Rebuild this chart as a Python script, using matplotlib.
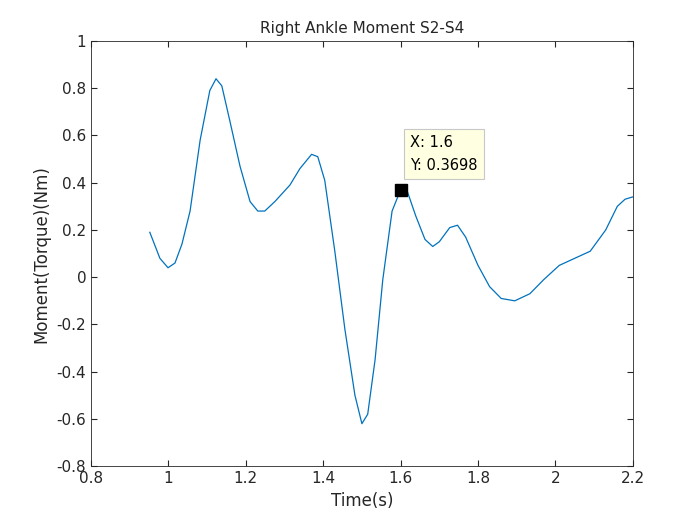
import matplotlib.pyplot as plt
import numpy as np

t = [0.952, 0.978, 0.999, 1.017, 1.035, 1.056, 1.082, 1.107, 1.123, 1.138, 1.159, 1.185,
     1.211, 1.231, 1.249, 1.275, 1.314, 1.34, 1.37, 1.386, 1.404, 1.43, 1.456, 1.482,
     1.5, 1.515, 1.534, 1.554, 1.578, 1.6, 1.618, 1.639, 1.663, 1.683, 1.7, 1.727,
     1.747, 1.768, 1.8, 1.83, 1.86, 1.895, 1.934, 1.97, 2.01, 2.05, 2.09, 2.13, 2.16,
     2.18, 2.2]
moment = [0.19, 0.08, 0.04, 0.06, 0.14, 0.28, 0.58, 0.79, 0.84, 0.81, 0.66, 0.47,
          0.32, 0.28, 0.28, 0.32, 0.39, 0.46, 0.52, 0.51, 0.41, 0.11, -0.22, -0.50,
          -0.62, -0.58, -0.35, -0.01, 0.28, 0.3698, 0.36, 0.26, 0.16, 0.13, 0.15, 0.21,
          0.22, 0.17, 0.05, -0.04, -0.09, -0.10, -0.07, -0.01, 0.05, 0.08, 0.11, 0.2, 0.3,
          0.33, 0.34]
tip_x, tip_y = 1.6, 0.3698

fig = plt.figure(figsize=(7, 5.25), dpi=100)
ax = fig.add_axes([0.13, 0.112, 0.774, 0.81])
ax.plot(t, moment, color='#0072BD', lw=0.9)
ax.plot(tip_x, tip_y, 's', color='black', ms=8)
ax.annotate('X: 1.6\nY: 0.3698', (tip_x, tip_y), xytext=(7, 14), textcoords='offset points',
            fontsize=10.5, linespacing=1.7,
            bbox=dict(boxstyle='square,pad=0.4', fc='#FFFFE1', ec='#C8C8C8', lw=0.8))
ax.set_xlim(0.8, 2.2)
ax.set_ylim(-0.8, 1)
ax.set_xticks(np.arange(0.8, 2.21, 0.2))
ax.set_xticklabels(['0.8', '1', '1.2', '1.4', '1.6', '1.8', '2', '2.2'])
ax.set_yticks(np.arange(-0.8, 1.01, 0.2))
ax.set_yticklabels(['-0.8', '-0.6', '-0.4', '-0.2', '0', '0.2', '0.4', '0.6', '0.8', '1'])
ax.tick_params(direction='in', labelsize=11, colors='#262626', top=True, right=True, length=4)
for s in ax.spines.values():
    s.set_color('#262626')
    s.set_linewidth(0.6)
ax.set_title('Right Ankle Moment S2-S4', fontsize=11, color='#262626')
ax.set_xlabel('Time(s)', fontsize=12, color='#262626')
ax.set_ylabel('Moment(Torque)(Nm)', fontsize=12, color='#262626')
fig.savefig('out.png')
